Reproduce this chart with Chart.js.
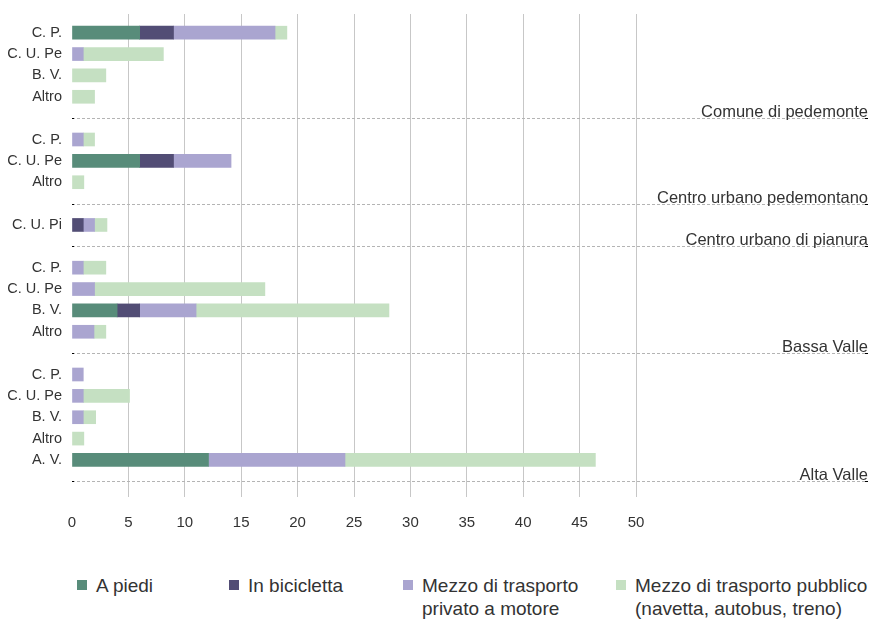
<!DOCTYPE html>
<html>
<head>
<meta charset="utf-8">
<script src="https://cdn.jsdelivr.net/npm/chart.js@4"></script>
<style>
  html, body { margin: 0; padding: 0; background: #fff; }
  #wrap { position: relative; width: 872px; height: 619px; font-family: "Liberation Sans", Arial, sans-serif; }
  #box { position: absolute; left: 0; top: 0; width: 872px; height: 540px; }
  #legend { position: absolute; left: 0; top: 574px; width: 872px; height: 45px; }
  .item { position: absolute; top: 0; color: #333; font-size: 19px; line-height: 23px; white-space: nowrap; }
  .sw { position: absolute; left: 0; top: 6px; width: 10px; height: 10px; }
  .tx { position: absolute; left: 19px; top: 0; }
</style>
</head>
<body>
<div id="wrap">
  <div id="box"><canvas id="c"></canvas></div>
  <div id="legend"></div>
</div>
<script>
// Categories (empty string = group separator row)
const categories = ['C. P.', 'C. U. Pe', 'B. V.', 'Altro', '',
                    'C. P.', 'C. U. Pe', 'Altro', '',
                    'C. U. Pi', '',
                    'C. P.', 'C. U. Pe', 'B. V.', 'Altro', '',
                    'C. P.', 'C. U. Pe', 'B. V.', 'Altro', 'A. V.', ''];
const groupLabels = ['Comune di pedemonte', 'Centro urbano pedemontano', 'Centro urbano di pianura', 'Bassa Valle', 'Alta Valle'];

const seriesNames = ['A piedi', 'In bicicletta', 'Mezzo di trasporto\nprivato a motore', 'Mezzo di trasporto pubblico\n(navetta, autobus, treno)'];
const seriesColors = ['#588c7a', '#524d75', '#aaa5d0', '#c5e0c2'];

const aPiedi   = [6, 0, 0, 0, null,   0, 6, 0, null,   0, null,   0, 0, 4, 0, null,      0, 0, 0, 0, 12.1, null];
const bici     = [3, 0, 0, 0, null,   0, 3, 0, null,   1, null,   0, 0, 2, 0, null,      0, 0, 0, 0, 0, null];
const privato  = [9, 1, 0, 0, null,   1, 5.1, 0, null, 1, null,   1, 2, 5, 1.95, null,   1, 1, 1, 0, 12.1, null];
const pubblico = [1.05, 7.1, 3, 2, null, 1, 0, 1.05, null, 1.1, null, 2, 15.1, 17.1, 1.05, null, 0, 4.1, 1.1, 1.05, 22.2, null];

const xTicksMin = 0, xTicksMax = 50, xStep = 5;

const FONT = '"Liberation Sans", Arial, sans-serif';
const gridColor = (c) => (c.tick && c.tick.value === 0) ? 'rgba(0,0,0,0)' : 'rgba(0,0,0,0.22)';

const groupPlugin = {
  id: 'groups',
  afterDraw(chart) {
    const { ctx, scales: { y }, chartArea } = chart;
    const right = chart.width - 4;
    let g = 0;
    categories.forEach((c, i) => {
      if (c !== '') return;
      const py = Math.round(y.getPixelForValue(i)) + 0.5;
      ctx.save();
      ctx.lineWidth = 1;
      ctx.strokeStyle = '#b4b4b4';
      ctx.setLineDash([3, 2]);
      ctx.beginPath(); ctx.moveTo(chartArea.left, py); ctx.lineTo(right, py); ctx.stroke();
      ctx.setLineDash([]);
      ctx.strokeStyle = '#000';
      ctx.beginPath(); ctx.moveTo(chartArea.left, py); ctx.lineTo(chartArea.left + 2, py); ctx.stroke();
      ctx.beginPath(); ctx.moveTo(right - 3, py); ctx.lineTo(right, py); ctx.stroke();
      ctx.fillStyle = '#333';
      ctx.font = '16.5px ' + FONT;
      ctx.textAlign = 'right';
      ctx.textBaseline = 'alphabetic';
      ctx.fillText(groupLabels[g++], right, py - 2);
      ctx.restore();
    });
  }
};

const seriesData = [aPiedi, bici, privato, pubblico];
const chart = new Chart(document.getElementById('c'), {
  type: 'bar',
  data: {
    labels: categories,
    datasets: seriesData.map((d, i) => ({
      label: seriesNames[i],
      data: d.map(v => (v === 0 ? null : v)),
      backgroundColor: seriesColors[i],
      borderWidth: 0,
      barThickness: 13,
      xAxisID: 'x',
      yAxisID: 'y'
    }))
  },
  options: {
    indexAxis: 'y',
    responsive: true,
    maintainAspectRatio: false,
    animation: false,
    layout: { padding: { left: 0, right: 236, top: 14, bottom: 10 } },
    plugins: { legend: { display: false }, tooltip: { enabled: false } },
    scales: {
      x: {
        type: 'linear', position: 'bottom', stacked: true,
        min: xTicksMin, max: xTicksMax, z: 1,
        border: { display: false },
        grid: { color: gridColor, lineWidth: 1, tickLength: 5, drawTicks: true },
        ticks: { stepSize: xStep, color: '#333', padding: 17, font: { family: FONT, size: 15 } },
        afterFit(s) { s.height = 38; }
      },
      x2: {
        type: 'linear', position: 'top',
        min: xTicksMin, max: xTicksMax,
        border: { display: false },
        grid: { color: gridColor, drawOnChartArea: false, drawTicks: true, tickLength: 8 },
        ticks: { stepSize: xStep, display: false },
        afterFit(s) { s.height = 8; }
      },
      y: {
        type: 'category', stacked: true, offset: true,
        border: { display: false },
        grid: { display: false, drawTicks: false, tickLength: 0 },
        ticks: { color: '#333', padding: 10, autoSkip: false, font: { family: FONT, size: 14.5 } },
        afterFit(s) { s.width = 72; }
      }
    }
  },
  plugins: [groupPlugin]
});

// HTML legend built from the chart datasets
const legendLeft = [77, 229, 403, 616];
const legendEl = document.getElementById('legend');
chart.data.datasets.forEach((ds, i) => {
  const it = document.createElement('div');
  it.className = 'item';
  it.style.left = legendLeft[i] + 'px';
  const sw = document.createElement('div');
  sw.className = 'sw';
  sw.style.background = ds.backgroundColor;
  const tx = document.createElement('div');
  tx.className = 'tx';
  tx.innerHTML = ds.label.split('\n').map(s => s.replace(/&/g, '&amp;').replace(/</g, '&lt;')).join('<br>');
  it.appendChild(sw); it.appendChild(tx);
  legendEl.appendChild(it);
});
</script>
</body>
</html>
